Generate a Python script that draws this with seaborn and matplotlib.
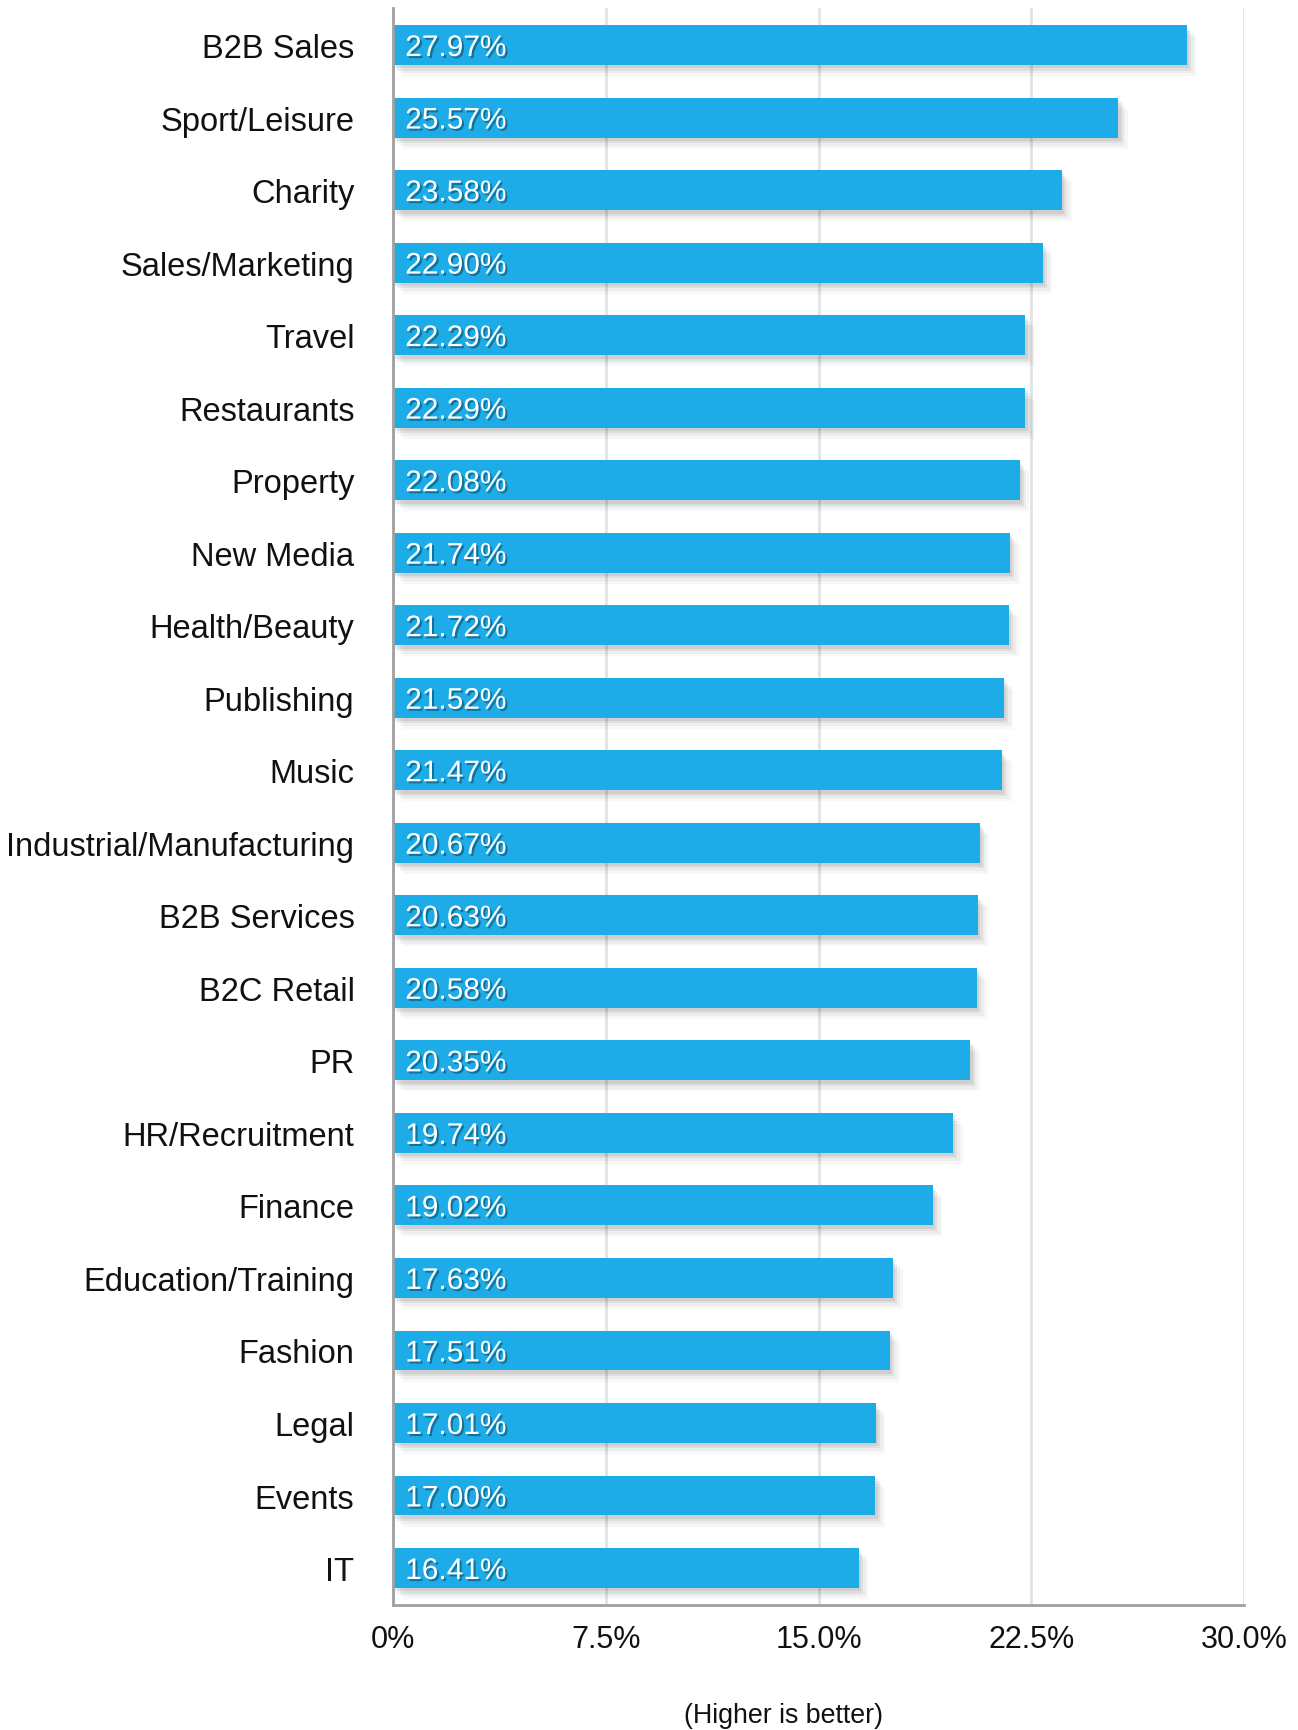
import matplotlib
matplotlib.use("Agg")
import matplotlib.pyplot as plt
import matplotlib.patheffects as pe
import seaborn as sns
import pandas as pd

categories = [
    "B2B Sales", "Sport/Leisure", "Charity", "Sales/Marketing", "Travel",
    "Restaurants", "Property", "New Media", "Health/Beauty", "Publishing",
    "Music", "Industrial/Manufacturing", "B2B Services", "B2C Retail", "PR",
    "HR/Recruitment", "Finance", "Education/Training", "Fashion", "Legal",
    "Events", "IT",
]
rates = [
    27.97, 25.57, 23.58, 22.90, 22.29, 22.29, 22.08, 21.74, 21.72, 21.52,
    21.47, 20.67, 20.63, 20.58, 20.35, 19.74, 19.02, 17.63, 17.51, 17.01,
    17.00, 16.41,
]
x_ticks = [0, 7.5, 15.0, 22.5, 30.0]
x_tick_labels = ["0%", "7.5%", "15.0%", "22.5%", "30.0%"]
note = "(Higher is better)"

df = pd.DataFrame({"category": categories, "rate": rates})

sns.set_theme(style="white")
plt.rcParams["font.family"] = ["Liberation Sans", "DejaVu Sans"]

BAR = "#1EACE8"

fig = plt.figure(figsize=(12.98, 17.31), dpi=100)
ax = fig.add_axes([0.3030, 0.0722, 0.6555, 0.9224])

sns.barplot(data=df, x="rate", y="category", orient="h", color=BAR,
            saturation=1, width=0.55, ax=ax, zorder=3)

# soft drop shadow under each bar
shadow = [
    pe.SimplePatchShadow(offset=(o, -o - 1), shadow_rgbFace="black", alpha=a)
    for o, a in [(7, 0.03), (5, 0.04), (3, 0.06), (1.5, 0.07)]
]
for p in ax.patches:
    p.set_edgecolor("none")
    p.set_path_effects(shadow + [pe.Normal()])

ax.set_xlim(0, 30)
ax.set_ylim(len(categories) - 0.49, -0.506)
ax.set_xticks(x_ticks)
ax.set_xticklabels(x_tick_labels)
ax.set_xlabel("")
ax.set_ylabel("")

ax.grid(axis="x", color="#e3e3e3", linewidth=2, zorder=0)
ax.grid(axis="y", visible=False)
ax.set_axisbelow(True)

for side in ["top", "right"]:
    ax.spines[side].set_visible(False)
for side in ["left", "bottom"]:
    ax.spines[side].set_color("#a0a0a0")
    ax.spines[side].set_linewidth(2)
    ax.spines[side].set_zorder(4)

ax.tick_params(axis="y", length=0, pad=28, labelsize=23.5, labelcolor="#111111")
ax.tick_params(axis="x", length=0, pad=14, labelsize=22, labelcolor="#111111")

# value labels inside the bars
for i, v in enumerate(rates):
    ax.text(0.42, i, f"{v:.2f}%", ha="left", va="center_baseline",
            color="white", fontsize=21.5, zorder=5,
            path_effects=[pe.SimplePatchShadow(offset=(1.5, -1.5),
                                               shadow_rgbFace="black",
                                               alpha=0.35),
                          pe.Normal()])

fig.text(784 / 1298, 1 - 1716 / 1731, note, ha="center", va="center",
         fontsize=19.3, color="#111111")

fig.savefig("out.png", dpi=100, facecolor="white")
